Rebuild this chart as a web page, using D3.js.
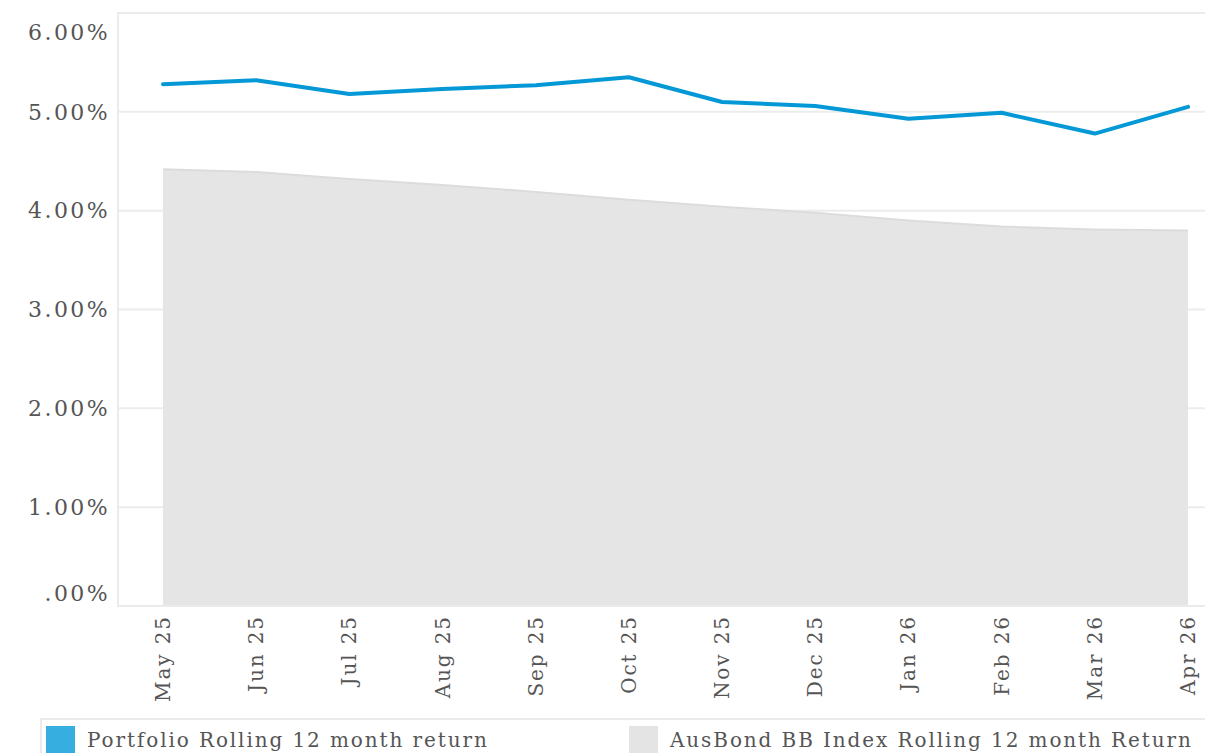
<!DOCTYPE html>
<html>
<head>
<meta charset="utf-8">
<script src="https://cdn.jsdelivr.net/npm/d3@7"></script>
<style>
  body { margin: 0; background: #fff; }
  text { font-family: "DejaVu Serif", serif; fill: #555; letter-spacing: 1.9px; }
  .ylab { letter-spacing: 2.4px; }
</style>
</head>
<body>
<script>
const months = ["May 25", "Jun 25", "Jul 25", "Aug 25", "Sep 25", "Oct 25",
                "Nov 25", "Dec 25", "Jan 26", "Feb 26", "Mar 26", "Apr 26"];
const portfolio = [5.28, 5.32, 5.18, 5.23, 5.27, 5.35, 5.10, 5.06, 4.93, 4.99, 4.78, 5.05];
const benchmark = [4.42, 4.39, 4.32, 4.26, 4.19, 4.11, 4.04, 3.98, 3.90, 3.84, 3.81, 3.80];
const yTicks = [0, 1, 2, 3, 4, 5, 6];
const seriesNames = ["Portfolio Rolling 12 month return", "AusBond BB Index Rolling 12 month Return"];

const width = 1205, height = 753;
const plotLeft = 118, plotTop = 13, plotRight = 1205, plotBottom = 606;

const svg = d3.select("body").append("svg")
  .attr("width", width)
  .attr("height", height);

const x = d3.scalePoint().domain(months).range([163, 1188]);
const y = d3.scaleLinear().domain([0, 6]).range([plotBottom, plotTop]);

// gridlines
svg.append("g")
  .selectAll("line")
  .data(yTicks.slice(1, -1))
  .enter().append("line")
    .attr("x1", plotLeft).attr("x2", plotRight)
    .attr("y1", d => y(d)).attr("y2", d => y(d))
    .attr("stroke", "#ececec").attr("stroke-width", 2);

// benchmark area
const area = d3.area()
  .x((d, i) => x(months[i]))
  .y0(y(0))
  .y1(d => y(d));
svg.append("path")
  .datum(benchmark)
  .attr("d", area)
  .attr("fill", "#e5e5e5");
svg.append("path")
  .datum(benchmark)
  .attr("d", d3.line().x((d, i) => x(months[i])).y(d => y(d)))
  .attr("fill", "none")
  .attr("stroke", "#dcdcdc")
  .attr("stroke-width", 2);

// frame
svg.append("path")
  .attr("d", `M${plotRight},${plotTop}H${plotLeft}V${plotBottom}H${plotRight}`)
  .attr("fill", "none")
  .attr("stroke", "#ebebeb")
  .attr("stroke-width", 2);

// portfolio line
svg.append("path")
  .datum(portfolio)
  .attr("d", d3.line().x((d, i) => x(months[i])).y(d => y(d)))
  .attr("fill", "none")
  .attr("stroke", "#0499d6")
  .attr("stroke-width", 4)
  .attr("stroke-linejoin", "round")
  .attr("stroke-linecap", "round");

// y labels
svg.append("g")
  .selectAll("text")
  .data(yTicks)
  .enter().append("text")
    .attr("class", "ylab")
    .attr("x", 110)
    .attr("y", d => d === 6 ? y(d) + 19 : d === 0 ? y(d) - 13 : y(d))
    .attr("dy", "0.35em")
    .attr("text-anchor", "end")
    .attr("font-size", 22)
    .text(d => d === 0 ? ".00%" : d.toFixed(2) + "%");

// x labels
svg.append("g")
  .selectAll("text")
  .data(months)
  .enter().append("text")
    .attr("transform", d => `translate(${x(d)},615) rotate(-90)`)
    .attr("text-anchor", "end")
    .attr("dy", "0.35em")
    .attr("font-size", 20)
    .text(d => d);

// legend
svg.append("line")
  .attr("x1", 40).attr("x2", plotRight)
  .attr("y1", 719).attr("y2", 719)
  .attr("stroke", "#ebebeb").attr("stroke-width", 2);
svg.append("line")
  .attr("x1", 41).attr("x2", 41)
  .attr("y1", 719).attr("y2", height)
  .attr("stroke", "#ebebeb").attr("stroke-width", 2);

const legend = svg.append("g")
  .selectAll("g")
  .data(seriesNames)
  .enter().append("g")
    .attr("transform", (d, i) => `translate(${i === 0 ? 46 : 629},726)`);
legend.append("rect")
  .attr("width", 29).attr("height", 30)
  .attr("fill", (d, i) => i === 0 ? "#36afe0" : "#e4e4e4");
legend.append("text")
  .attr("x", 41).attr("y", 21)
  .attr("font-size", 20)
  .text(d => d);
</script>
</body>
</html>
